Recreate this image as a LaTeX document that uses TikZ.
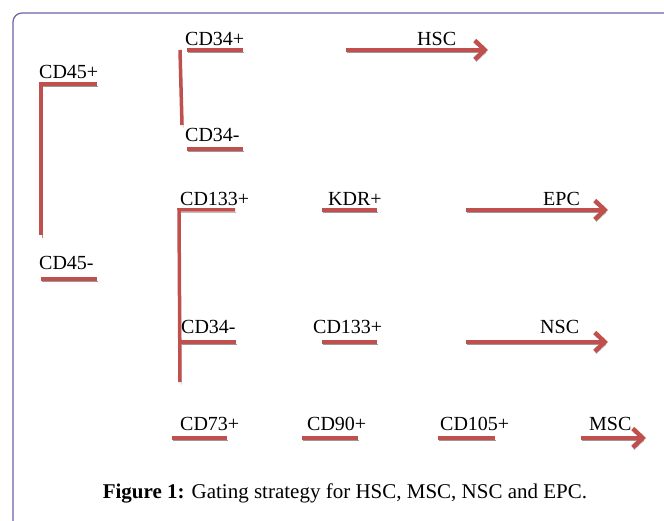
\documentclass[tikz,border=0pt]{standalone}
\usepackage{fontspec}
\setmainfont{Liberation Serif}
\usetikzlibrary{arrows.meta}
\definecolor{gatered}{HTML}{C0504D}
\definecolor{framecol}{HTML}{6A60AE}
\tikzset{
  lbl/.style={anchor=base west, inner sep=0pt, font=\fontsize{20}{24}\selectfont},
  gate/.style={draw=gatered, line width=3.5pt,
    preaction={draw=black!40, transform canvas={shift={(1.2pt,-2.6pt)}}}},
  gatearrow/.style={gate, line width=4.5pt,
    -{Straight Barb[length=10pt,width=19pt,line width=4.5pt]}}
}
\begin{document}
\begin{tikzpicture}[x=1pt, y=-1pt]
  \useasboundingbox (0,0) rectangle (664,521);

  % Rahmen (nur linke und obere Kante sichtbar)
  \begin{scope}
    \clip (0,0) rectangle (664,521);
    \draw[framecol, line width=1.2pt, rounded corners=9pt] (13,560) -- (13,13) -- (720,13);
  \end{scope}

  % CD45+ / CD45-
  \node[lbl] (cd45p) at (39,79) {CD45+};
  \draw[gate] (97,84) -- (41,84) -- (41,235);
  \node[lbl] (cd45m) at (39,270) {CD45-};
  \draw[gate] (41,279) -- (97,279);

  % CD34+ / CD34- -> HSC
  \node[lbl] (cd34p) at (185,46) {CD34+};
  \draw[gate] (187,50) -- (243,50);
  \draw[gate] (180,50) -- (182,125);
  \node[lbl] (cd34m) at (185,142) {CD34-};
  \draw[gate] (187,149) -- (243,149);
  \node[lbl] (hsc) at (417,46) {HSC};
  \draw[gatearrow] (346,50) -- (488,50);

  % CD133+ -> KDR+ -> EPC
  \node[lbl] (cd133p) at (180,206) {CD133+};
  \draw[gate] (235,210) -- (179,210) -- (180,382);
  \node[lbl] (kdrp) at (328,206) {KDR+};
  \draw[gate] (322,210) -- (377,210);
  \node[lbl] (epc) at (543,206) {EPC};
  \draw[gatearrow] (466,210) -- (608,210);

  % CD34- -> CD133+ -> NSC
  \node[lbl] (cd34mb) at (181,334) {CD34-};
  \draw[gate] (181,342) -- (236,342);
  \node[lbl] (cd133pb) at (313,334) {CD133+};
  \draw[gate] (322,342) -- (377,342);
  \node[lbl] (nsc) at (540,334) {NSC};
  \draw[gatearrow] (466,342) -- (608,342);

  % CD73+ -> CD90+ -> CD105+ -> MSC
  \node[lbl] (cd73p) at (180,430) {CD73+};
  \draw[gate] (172,438) -- (227,438);
  \node[lbl] (cd90p) at (307,430) {CD90+};
  \draw[gate] (302,438) -- (358,438);
  \node[lbl] (cd105p) at (440,430) {CD105+};
  \draw[gate] (438,438) -- (495,438);
  \node[lbl] (msc) at (589,430) {MSC};
  \draw[gatearrow] (581,438) -- (646,438);

  % Bildunterschrift
  \node[anchor=base, inner sep=0pt, font=\fontsize{21}{25}\selectfont] (caption) at (345,498)
    {\textbf{Figure 1:} Gating strategy for HSC, MSC, NSC and EPC.};
\end{tikzpicture}
\end{document}
